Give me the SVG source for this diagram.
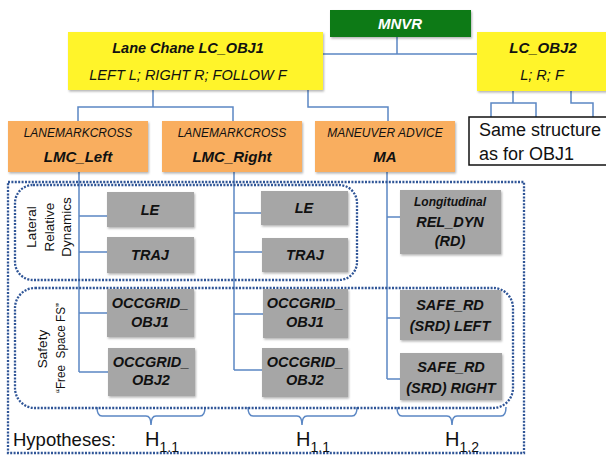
<svg xmlns="http://www.w3.org/2000/svg" width="606" height="455" viewBox="0 0 606 455">
<defs>
<filter id="sh" x="-10%" y="-10%" width="130%" height="140%">
<feDropShadow dx="1" dy="1.5" stdDeviation="1.2" flood-color="#000" flood-opacity="0.3"/>
</filter>
</defs>
<style>
text{font-family:"Liberation Sans",Arial,sans-serif;fill:#111;}
.bi{font-weight:bold;font-style:italic;}
.it{font-style:italic;}
.c{text-anchor:middle;}
.con{fill:none;stroke:#5b87c4;stroke-width:1.5;}
.dot{fill:none;stroke:#2f5597;stroke-width:2.3;stroke-dasharray:2 1.4;}
.yel{fill:#fff42a;filter:url(#sh);}
.org{fill:#f9ae5e;filter:url(#sh);}
.gry{fill:#a6a6a6;filter:url(#sh);}
.g14{font-size:14.5px;}
.lbl{font-size:13.5px;}
</style>
<rect width="606" height="455" fill="#fff"/>

<g id="connectors">
<path class="con" d="M397,37V54M323,54H477"/>
<path class="con" d="M153,90V107M78,121V107H233V121"/>
<path class="con" d="M308,90V107H388V121"/>
<path class="con" d="M513,91V103M491,117V103H536V117"/>
<path class="con" d="M571,91V103H593V117"/>
<path class="con" d="M79,172V372M79,216H107M79,252H107M79,313H107M79,372H108"/>
<path class="con" d="M234,172V370M234,213H261M234,252H262M234,314H263M234,370H262"/>
<path class="con" d="M387,172V379M387,217H400M387,318H400M387,379H400"/>
<path class="con" d="M97,407Q97,416 102,416H146Q151,416 151,425Q151,416 156,416H200Q205,416 205,407"/>
<path class="con" d="M248,407Q248,416 253,416H297Q302,416 302,425Q302,416 307,416H352Q357,416 357,407"/>
<path class="con" d="M397,407Q397,416 402,416H447Q452,416 452,425Q452,416 457,416H501Q506,416 506,407"/>
</g>

<g id="groups">
<rect class="dot" x="8" y="182" width="516" height="271"/>
<rect class="dot" x="15" y="185" width="342" height="95" rx="18"/>
<rect class="dot" x="15" y="288" width="498" height="120" rx="20"/>
<text class="lbl c" transform="translate(36,227) rotate(-90)">Lateral</text>
<text class="lbl c" transform="translate(54,227) rotate(-90)">Relative</text>
<text class="lbl c" transform="translate(71,227) rotate(-90)">Dynamics</text>
<text class="lbl c" transform="translate(47,349) rotate(-90)">Safety</text>
<text class="lbl c" transform="translate(65,348) rotate(-90)" style="white-space:pre" textLength="90" lengthAdjust="spacingAndGlyphs">“Free  Space FS”</text>
</g>

<g id="MNVR">
<rect x="330" y="10" width="141" height="27" fill="#087a12" filter="url(#sh)"/>
<text class="bi c" x="400" y="29" font-size="15" style="fill:#fff">MNVR</text>
</g>

<g id="LC_OBJ1">
<rect class="yel" x="68" y="32" width="255" height="58"/>
<text class="bi c" x="188" y="53" font-size="14.5">Lane Chane LC_OBJ1</text>
<text class="it c" x="188" y="80" font-size="14.5">LEFT L; RIGHT R; FOLLOW F</text>
</g>

<g id="LC_OBJ2">
<rect class="yel" x="477" y="32" width="135" height="59"/>
<text class="bi c" x="543" y="53" font-size="15">LC_OBJ2</text>
<text class="it c" x="542" y="80" font-size="14.5">L; R; F</text>
</g>

<g id="same">
<rect x="469" y="117" width="145" height="48" fill="#fff" stroke="#111" stroke-width="1.5"/>
<text x="479" y="136" font-size="18">Same structure</text>
<text x="479" y="160" font-size="18">as for OBJ1</text>
</g>

<g id="LMC_Left">
<rect class="org" x="8" y="121" width="140" height="51"/>
<text class="it c" x="78" y="137" font-size="12">LANEMARKCROSS</text>
<text class="bi c" x="78" y="162" font-size="15">LMC_Left</text>
</g>
<g id="LMC_Right">
<rect class="org" x="162" y="121" width="140" height="51"/>
<text class="it c" x="232" y="137" font-size="12">LANEMARKCROSS</text>
<text class="bi c" x="232" y="162" font-size="15">LMC_Right</text>
</g>
<g id="MA">
<rect class="org" x="315" y="121" width="140" height="51"/>
<text class="it c" x="385" y="137" font-size="12">MANEUVER ADVICE</text>
<text class="bi c" x="385" y="162" font-size="15">MA</text>
</g>

<g id="LE_1"><rect class="gry" x="107" y="192" width="87" height="35"/><text class="bi c g14" x="150" y="215">LE</text></g>
<g id="TRAJ_1"><rect class="gry" x="107" y="237" width="87" height="36"/><text class="bi c g14" x="150" y="260">TRAJ</text></g>
<g id="OCC1_1"><rect class="gry" x="107" y="289" width="87" height="48"/><text class="bi c g14" x="150" y="308">OCCGRID_</text><text class="bi c g14" x="150" y="327">OBJ1</text></g>
<g id="OCC2_1"><rect class="gry" x="108" y="348" width="87" height="48"/><text class="bi c g14" x="151" y="367">OCCGRID_</text><text class="bi c g14" x="151" y="385">OBJ2</text></g>

<g id="LE_2"><rect class="gry" x="261" y="191" width="87" height="34"/><text class="bi c g14" x="304" y="213">LE</text></g>
<g id="TRAJ_2"><rect class="gry" x="262" y="238" width="86" height="34"/><text class="bi c g14" x="305" y="260">TRAJ</text></g>
<g id="OCC1_2"><rect class="gry" x="263" y="289" width="85" height="49"/><text class="bi c g14" x="305" y="308">OCCGRID_</text><text class="bi c g14" x="305" y="327">OBJ1</text></g>
<g id="OCC2_2"><rect class="gry" x="262" y="348" width="86" height="49"/><text class="bi c g14" x="305" y="367">OCCGRID_</text><text class="bi c g14" x="305" y="385">OBJ2</text></g>

<g id="RD"><rect class="gry" x="400" y="190" width="101" height="64"/><text class="bi c" x="450" y="206" font-size="12">Longitudinal</text><text class="bi c g14" x="450" y="227">REL_DYN</text><text class="bi c g14" x="450" y="246">(RD)</text></g>
<g id="SRD_L"><rect class="gry" x="400" y="290" width="101" height="50"/><text class="bi c g14" x="450" y="310">SAFE_RD</text><text class="bi c g14" x="450" y="331">(SRD) LEFT</text></g>
<g id="SRD_R"><rect class="gry" x="400" y="353" width="102" height="47"/><text class="bi c g14" x="451" y="372">SAFE_RD</text><text class="bi c g14" x="451" y="393">(SRD) RIGHT</text></g>

<g id="hyp">
<text x="13" y="446" font-size="18.5">Hypotheses:</text>
<text x="145" y="446" font-size="20">H<tspan font-size="14" dy="6">1.1</tspan></text>
<text x="296" y="446" font-size="20">H<tspan font-size="14" dy="6">1.1</tspan></text>
<text x="445" y="446" font-size="20">H<tspan font-size="14" dy="6">1.2</tspan></text>
</g>
</svg>
